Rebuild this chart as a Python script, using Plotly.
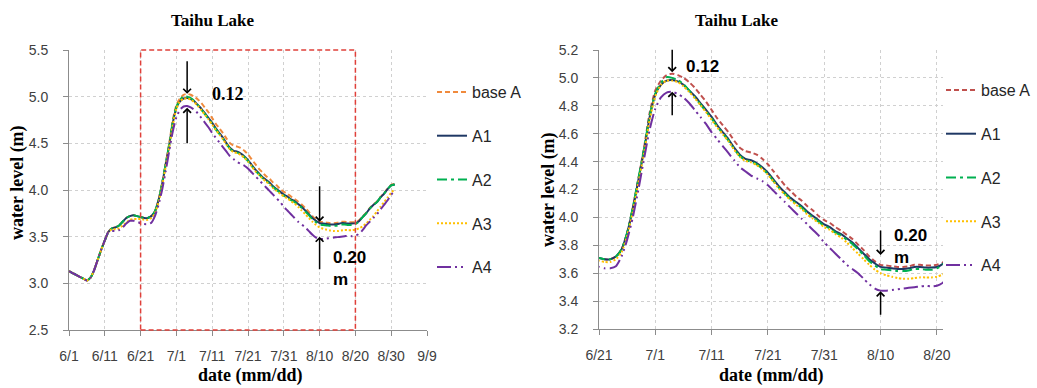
import pandas as pd
import plotly.graph_objects as go

W, H = 1037, 388

# ---------------- data (daily, 2013-06-01 .. 2013-08-31) ----------------
start_date = "2013-06-01"
end_date = "2013-08-31"
dates = pd.date_range(start_date, end_date, freq="D")

series_names = ["base A", "A1", "A2", "A3", "A4"]

base_A = [3.13, 3.11, 3.09, 3.07, 3.05, 3.03, 3.06, 3.14, 3.25, 3.36,
          3.46, 3.55, 3.59, 3.60, 3.62, 3.66, 3.70, 3.72, 3.73, 3.72,
          3.71, 3.70, 3.70, 3.72, 3.77, 3.89, 4.07, 4.28, 4.50, 4.75,
          4.91, 4.98, 5.02, 5.03, 5.02, 5.00, 4.97, 4.93, 4.88, 4.83,
          4.77, 4.71, 4.66, 4.61, 4.55, 4.50, 4.475, 4.465, 4.45, 4.42,
          4.38, 4.33, 4.28, 4.23, 4.19, 4.15, 4.12, 4.08, 4.05, 4.01, 3.98,
          3.96, 3.93, 3.905, 3.875, 3.845, 3.805, 3.765, 3.72, 3.685, 3.66,
          3.655, 3.65, 3.645, 3.645, 3.65, 3.66, 3.66, 3.655, 3.655, 3.66,
          3.675, 3.715, 3.755, 3.805, 3.845, 3.875, 3.925, 3.965, 4.015, 4.055, 4.065]

A1 = [3.13, 3.11, 3.09, 3.07, 3.05, 3.03, 3.06, 3.14, 3.25, 3.36,
      3.46, 3.55, 3.59, 3.60, 3.62, 3.66, 3.70, 3.72, 3.73, 3.72,
      3.71, 3.70, 3.70, 3.72, 3.77, 3.89, 4.06, 4.27, 4.48, 4.72,
      4.88, 4.95, 4.98, 4.985, 4.975, 4.95, 4.91, 4.87, 4.82, 4.77,
      4.72, 4.66, 4.61, 4.56, 4.50, 4.45, 4.42, 4.41, 4.39, 4.36,
      4.32, 4.27, 4.22, 4.18, 4.14, 4.11, 4.08, 4.04, 4.01, 3.98, 3.95,
      3.93, 3.90, 3.88, 3.85, 3.82, 3.78, 3.74, 3.70, 3.67, 3.645,
      3.64, 3.635, 3.63, 3.63, 3.635, 3.645, 3.645, 3.64, 3.64, 3.645,
      3.665, 3.71, 3.75, 3.80, 3.84, 3.87, 3.92, 3.96, 4.01, 4.05, 4.06]

A2 = [3.13, 3.11, 3.09, 3.07, 3.05, 3.03, 3.06, 3.14, 3.25, 3.36,
      3.46, 3.55, 3.59, 3.60, 3.62, 3.66, 3.70, 3.72, 3.73, 3.72,
      3.71, 3.70, 3.70, 3.72, 3.77, 3.89, 4.07, 4.28, 4.49, 4.73,
      4.89, 4.965, 5.005, 5.00, 4.985, 4.955, 4.91, 4.86, 4.81, 4.76,
      4.71, 4.65, 4.60, 4.55, 4.49, 4.44, 4.41, 4.40, 4.38, 4.35,
      4.31, 4.26, 4.21, 4.17, 4.13, 4.10, 4.07, 4.03, 4.00, 3.97, 3.94,
      3.92, 3.89, 3.87, 3.84, 3.81, 3.77, 3.73, 3.685, 3.655, 3.63,
      3.625, 3.62, 3.615, 3.615, 3.62, 3.63, 3.63, 3.625, 3.625, 3.635,
      3.66, 3.71, 3.75, 3.80, 3.84, 3.87, 3.92, 3.96, 4.01, 4.05, 4.06]

A3 = [3.13, 3.11, 3.09, 3.07, 3.05, 3.03, 3.06, 3.14, 3.25, 3.36,
      3.46, 3.55, 3.58, 3.58, 3.59, 3.62, 3.65, 3.68, 3.69, 3.69,
      3.69, 3.68, 3.68, 3.70, 3.75, 3.87, 4.04, 4.25, 4.46, 4.70,
      4.87, 4.95, 4.98, 4.98, 4.97, 4.94, 4.90, 4.855, 4.805, 4.755,
      4.70, 4.645, 4.595, 4.545, 4.485, 4.435, 4.405, 4.395, 4.375, 4.345,
      4.305, 4.255, 4.205, 4.165, 4.125, 4.09, 4.06, 4.02, 3.99, 3.96, 3.93,
      3.91, 3.88, 3.855, 3.82, 3.78, 3.74, 3.70, 3.66, 3.625, 3.60,
      3.585, 3.575, 3.565, 3.56, 3.56, 3.565, 3.57, 3.57, 3.57, 3.575,
      3.59, 3.61, 3.64, 3.68, 3.72, 3.77, 3.82, 3.87, 3.92, 3.97, 4.01]

A4 = [3.13, 3.11, 3.09, 3.07, 3.05, 3.03, 3.06, 3.14, 3.25, 3.36,
      3.46, 3.55, 3.56, 3.56, 3.57, 3.60, 3.64, 3.67, 3.67, 3.66,
      3.645, 3.635, 3.635, 3.65, 3.72, 3.84, 4.00, 4.20, 4.42, 4.63,
      4.78, 4.86, 4.895, 4.90, 4.885, 4.86, 4.82, 4.77, 4.72, 4.67,
      4.61, 4.56, 4.51, 4.46, 4.41, 4.36, 4.33, 4.30, 4.28, 4.26,
      4.23, 4.19, 4.15, 4.11, 4.07, 4.03, 3.99, 3.95, 3.91, 3.87, 3.82,
      3.78, 3.74, 3.70, 3.66, 3.63, 3.60, 3.56, 3.52, 3.49, 3.475,
      3.475, 3.48, 3.485, 3.49, 3.495, 3.50, 3.505, 3.51, 3.505, 3.51,
      3.53, 3.57, 3.62, 3.66, 3.70, 3.74, 3.79, 3.84, 3.89, 3.95, 3.99]

values = [base_A, A1, A2, A3, A4]

# ---------------- styles ----------------
left_colors = ["#F08A3C", "#1F3864", "#00B050", "#FFC000", "#7030A0"]
right_colors = ["#C0504D", "#1F3864", "#00B050", "#FFC000", "#7030A0"]
dashes = ["5px,3px", "solid", "10px,4px,3px,4px", "2px,2px", "14px,4px,2px,4px,2px,4px"]
widths = [2, 2, 2, 2, 2]

SANS = "Liberation Sans"
SERIF = "Liberation Serif"

fig = go.Figure()
for i, name in enumerate(series_names):
    fig.add_trace(go.Scatter(
        x=dates, y=values[i], name=name, mode="lines",
        line=dict(color=left_colors[i], dash=dashes[i], width=widths[i], shape="spline", smoothing=0.6),
        xaxis="x", yaxis="y", legend="legend", legendgroup="L%d" % i,
        hoverinfo="skip"))
for i, name in enumerate(series_names):
    fig.add_trace(go.Scatter(
        x=dates, y=values[i], name=name, mode="lines",
        line=dict(color=right_colors[i], dash=dashes[i], width=widths[i], shape="spline", smoothing=0.6),
        xaxis="x2", yaxis="y2", legend="legend2", legendgroup="R%d" % i,
        hoverinfo="skip"))


def px(x):
    return x / W


def py(y):
    return 1 - y / H


axis_common = dict(
    showline=True, linecolor="#8C8C8C", linewidth=1,
    ticks="outside", ticklen=5, tickcolor="#8C8C8C", tickwidth=1,
    showgrid=True, gridcolor="#D0D0D0", griddash="dot", gridwidth=1,
    zeroline=False, automargin=False, tickfont=dict(family=SANS, size=14, color="#404040"),
)

fig.update_layout(
    width=W, height=H, autosize=False,
    margin=dict(l=0, r=0, t=0, b=0, pad=0, autoexpand=False),
    paper_bgcolor="white", plot_bgcolor="white",
    xaxis=dict(domain=[px(69), px(427)], anchor="y", type="date",
               range=["2013-06-01", "2013-09-09"], tick0="2013-06-01",
               dtick=864000000, tickformat="%-m/%-d", ticklabelstandoff=8, **axis_common),
    yaxis=dict(domain=[py(330), py(50)], anchor="x", range=[2.5, 5.5],
               dtick=0.5, tickformat=".1f", ticklabelstandoff=12, **axis_common),
    xaxis2=dict(domain=[px(599), px(943)], anchor="y2", type="date",
                range=["2013-06-21", "2013-08-21 02:00"], tick0="2013-06-21",
                dtick=864000000, tickformat="%-m/%-d", ticklabelstandoff=8, **axis_common),
    yaxis2=dict(domain=[py(329), py(50)], anchor="x2", range=[3.2, 5.2],
                dtick=0.2, tickformat=".1f", ticklabelstandoff=12, **axis_common),
    legend=dict(x=px(432), y=py(75), xanchor="left", yanchor="top",
                tracegroupgap=20, bgcolor="rgba(0,0,0,0)",
                font=dict(family=SANS, size=16, color="#262626")),
    legend2=dict(x=px(941), y=py(73), xanchor="left", yanchor="top",
                 tracegroupgap=20, bgcolor="rgba(0,0,0,0)",
                 font=dict(family=SANS, size=16, color="#262626")),
    showlegend=True,
)

# red dashed focus box on left chart (spans the full plot height)
fig.add_shape(type="rect", xref="x", yref="paper",
              x0="2013-06-21", x1="2013-08-20", y0=py(330), y1=py(50),
              line=dict(color="#E0403A", width=1.5, dash="5px,3px"), layer="above")

annotations = []


def label(text, x, y, family, size, xanchor="center", angle=0, align="center"):
    return dict(text=text, x=px(x), y=py(y), xref="paper", yref="paper",
                xanchor=xanchor, yanchor="middle", textangle=angle, align=align,
                showarrow=False, font=dict(family=family, size=size, color="black"))


# titles
for cx in (212, 736):
    annotations.append(label("<b>Taihu Lake</b>", cx, 20, SERIF, 17))
for cx in (250, 771):
    annotations.append(label("<b>date (mm/dd)</b>", cx, 375, SERIF, 18))
for cx, cy in ((17, 183), (548, 190)):
    annotations.append(label("<b>water level (m)</b>", cx, cy, SERIF, 18, angle=-90))


def arrow(xr, yr, x, y, ay):
    return dict(x=x, y=y, xref=xr, yref=yr, ax=0, ay=ay, text="", showarrow=True,
                arrowhead=4, arrowsize=1, arrowwidth=1.5, arrowcolor="black", standoff=0)


annotations += [
    arrow("x", "y", "2013-07-04", 5.03, -34),
    arrow("x", "y", "2013-07-04", 4.88, 37),
    arrow("x", "y", "2013-08-10", 3.66, -37),
    arrow("x", "y", "2013-08-10", 3.50, 34),
    arrow("x2", "y2", "2013-07-04", 5.04, -24),
    arrow("x2", "y2", "2013-07-04", 4.90, 25),
    arrow("x2", "y2", "2013-08-10", 3.73, -26),
    arrow("x2", "y2", "2013-08-10", 3.47, 25),
]

annotations += [
    label("<b>0.12</b>", 210, 94, SERIF, 18, xanchor="left"),
    label("<b>0.20<br>m</b>", 331, 268, SANS, 17, xanchor="left", align="left"),
    label("<b>0.12</b>", 684, 66, SANS, 17, xanchor="left"),
    label("<b>0.20<br>m</b>", 892, 246, SANS, 17, xanchor="left", align="left"),
]
fig.update_layout(annotations=annotations)

fig.write_html("out.html")
